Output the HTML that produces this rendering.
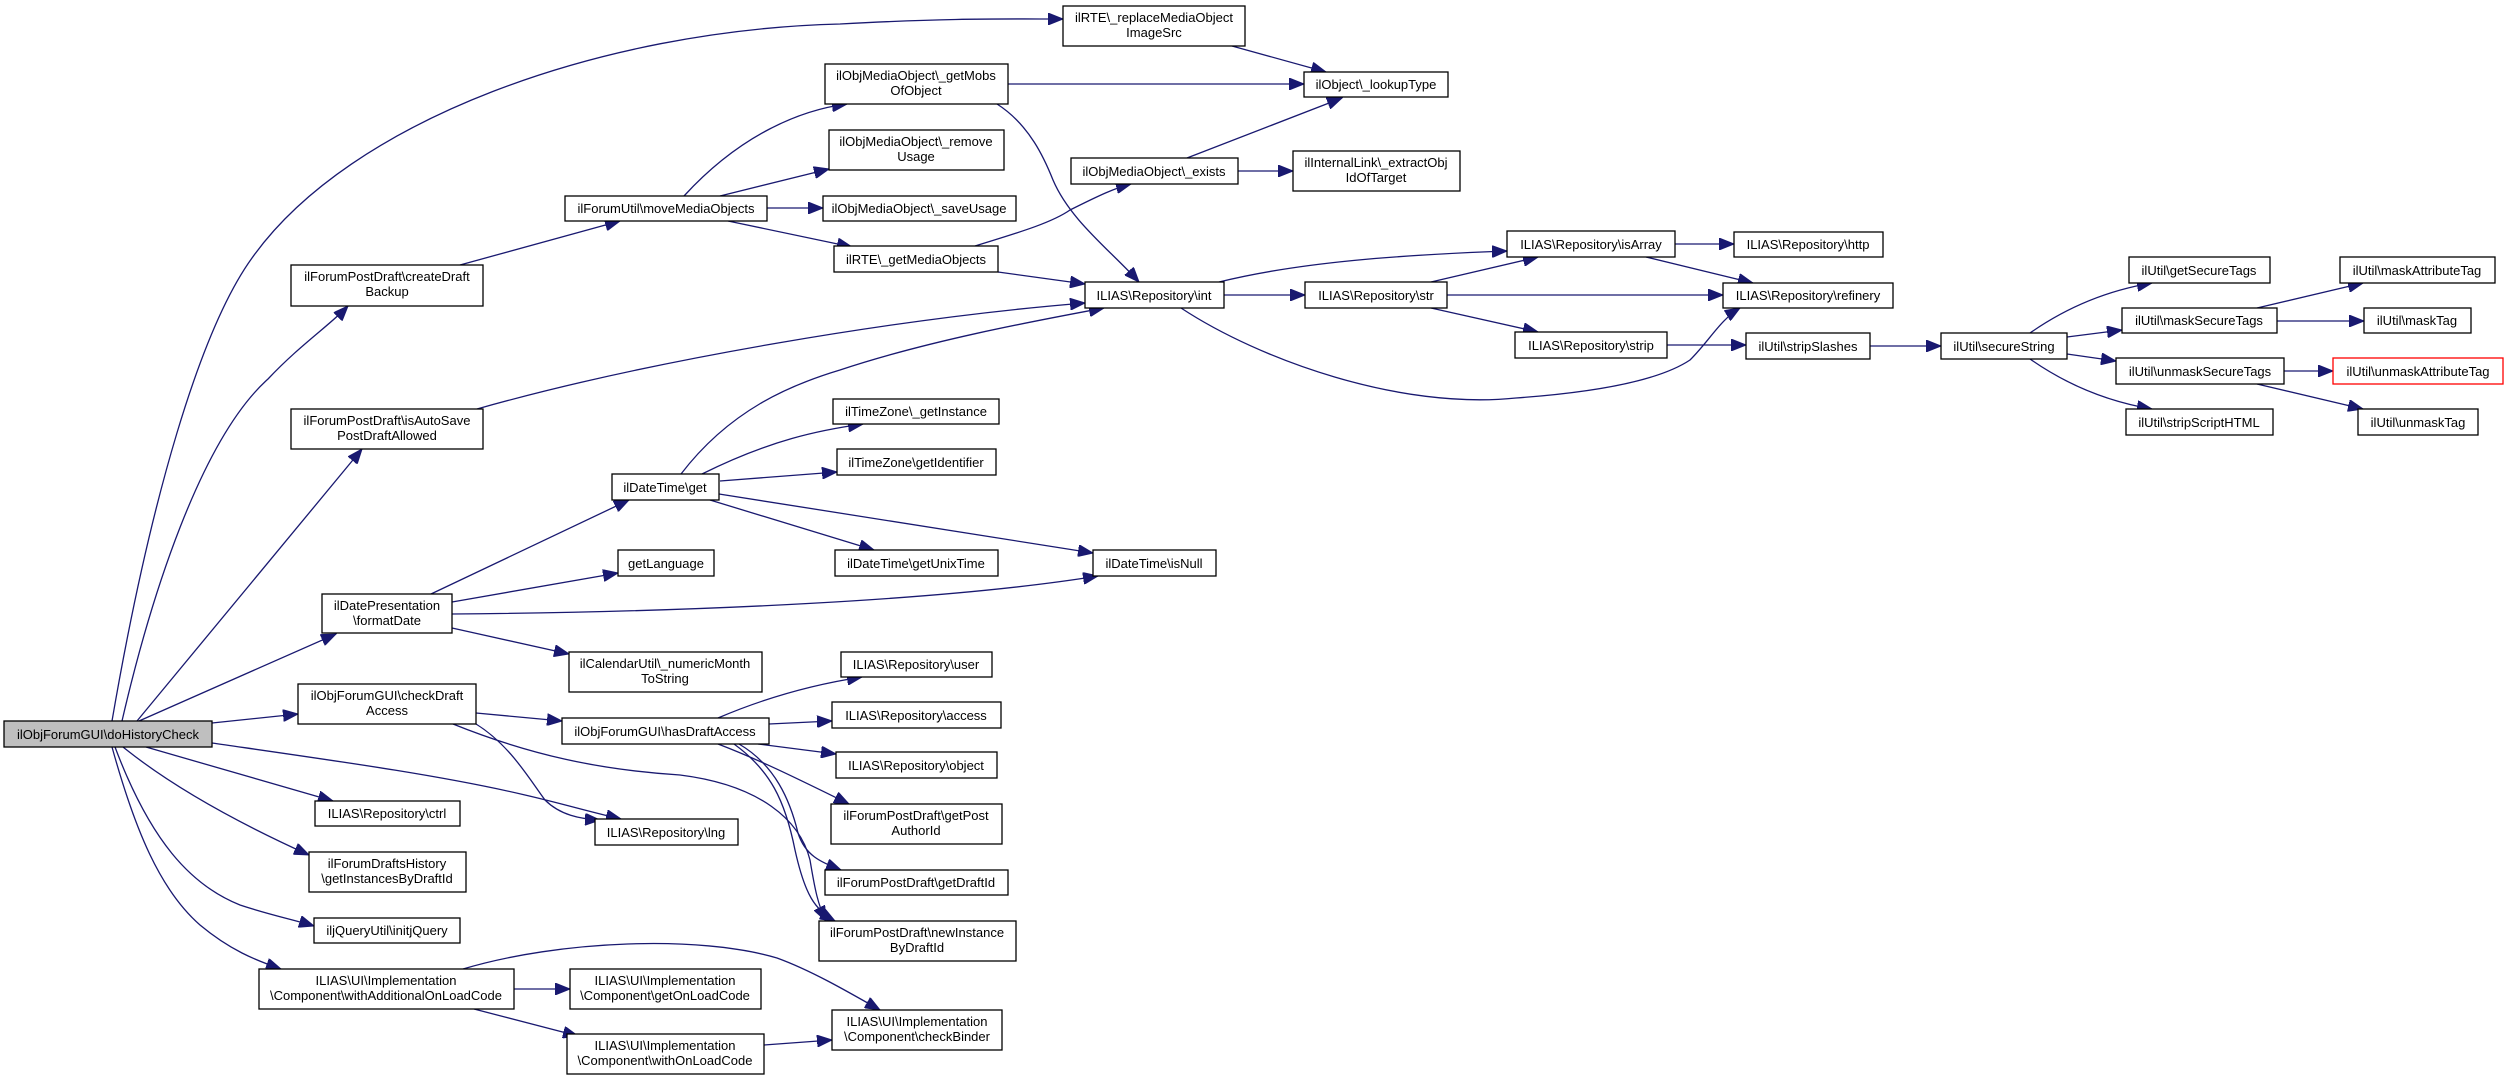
<!DOCTYPE html>
<html><head><meta charset="utf-8"><style>
html,body{margin:0;padding:0;background:#fff;}
svg{display:block;}
text{font-family:"Liberation Sans",Arial,sans-serif;font-size:13px;fill:#000;text-anchor:middle;}
.n{fill:#fff;stroke:#000;stroke-width:1.3;}
.e{fill:none;stroke:#191970;stroke-width:1.3;marker-end:url(#a);}
</style></head><body>
<svg width="2504" height="1081" viewBox="0 0 2504 1081" xmlns="http://www.w3.org/2000/svg">
<defs><marker id="a" markerUnits="userSpaceOnUse" markerWidth="16" markerHeight="12" refX="15" refY="6" orient="auto"><path d="M0,0 L15,6 L0,12 z" fill="#191970" stroke="#191970"/></marker></defs>

<!-- edges -->
<path class="e" d="M112,721 C150,500 200,330 252,258 C350,120 600,30 840,24 C950,18 1000,19 1063,19"/>
<path class="e" d="M122,721 C150,600 200,440 268,379 C300,345 330,325 348,306"/>
<path class="e" d="M137,721 L362,449"/>
<path class="e" d="M139,721 L336,634"/>
<path class="e" d="M212,723 L298,714"/>
<path class="e" d="M212,743 C330,760 440,775 525,795 C560,803 590,812 621,819"/>
<path class="e" d="M146,747 L333,801"/>
<path class="e" d="M123,747 C170,785 236,822 309,855"/>
<path class="e" d="M115,747 C150,840 190,885 240,905 C270,915 295,920 314,926"/>
<path class="e" d="M112,747 C135,830 160,890 200,925 C230,950 255,960 281,969"/>
<path class="e" d="M460,265 L620,221"/>
<path class="e" d="M684,196 C740,135 800,110 847,104"/>
<path class="e" d="M720,196 L829,169"/>
<path class="e" d="M767,208 L823,208"/>
<path class="e" d="M728,221 L852,247"/>
<path class="e" d="M1008,84 L1304,84"/>
<path class="e" d="M997,104 C1030,125 1045,160 1053,180 C1070,220 1110,250 1139,282"/>
<path class="e" d="M1232,46 L1326,72"/>
<path class="e" d="M975,246 C1010,235 1050,224 1070,210 C1100,195 1115,188 1131,184"/>
<path class="e" d="M998,272 L1085,284"/>
<path class="e" d="M1187,158 L1342,98"/>
<path class="e" d="M1238,171 L1293,171"/>
<path class="e" d="M477,409 C650,360 900,318 1085,303"/>
<path class="e" d="M681,474 C730,410 790,385 840,370 C930,340 1040,320 1104,308"/>
<path class="e" d="M702,474 C770,440 820,430 863,424"/>
<path class="e" d="M720,481 L837,472"/>
<path class="e" d="M719,494 L1093,553"/>
<path class="e" d="M710,500 L874,550"/>
<path class="e" d="M431,594 L629,500"/>
<path class="e" d="M452,602 L618,573"/>
<path class="e" d="M452,614 C700,612 950,600 1098,576"/>
<path class="e" d="M452,628 L569,654"/>
<path class="e" d="M1219,282 C1300,262 1400,255 1507,251"/>
<path class="e" d="M1224,295 L1305,295"/>
<path class="e" d="M1181,308 C1260,360 1400,410 1516,398 C1600,392 1660,380 1690,360 C1710,340 1720,320 1740,308"/>
<path class="e" d="M1431,282 L1538,257"/>
<path class="e" d="M1447,295 L1723,295"/>
<path class="e" d="M1431,308 L1538,332"/>
<path class="e" d="M1675,244 L1734,244"/>
<path class="e" d="M1646,257 L1753,283"/>
<path class="e" d="M1667,345 L1746,345"/>
<path class="e" d="M1870,346 L1941,346"/>
<path class="e" d="M2030,333 C2070,305 2110,290 2152,283"/>
<path class="e" d="M2067,337 L2122,330"/>
<path class="e" d="M2067,354 L2116,361"/>
<path class="e" d="M2030,359 C2070,387 2110,402 2152,409"/>
<path class="e" d="M2257,308 L2363,283"/>
<path class="e" d="M2277,321 L2364,321"/>
<path class="e" d="M2284,371 L2333,371"/>
<path class="e" d="M2257,384 L2363,409"/>
<path class="e" d="M476,713 L562,721"/>
<path class="e" d="M476,724 C510,745 530,780 545,800 C560,815 580,819 600,820"/>
<path class="e" d="M453,724 C530,755 600,770 680,775 C760,785 800,820 810,860 C815,890 818,905 826,921"/>
<path class="e" d="M718,718 C760,700 810,685 862,677"/>
<path class="e" d="M769,724 L832,721"/>
<path class="e" d="M758,744 L836,754"/>
<path class="e" d="M718,744 C760,760 800,780 849,804"/>
<path class="e" d="M739,744 C775,765 790,800 798,833 C805,855 820,862 841,870"/>
<path class="e" d="M734,744 C770,770 785,800 795,850 C805,895 815,910 835,921"/>
<path class="e" d="M514,989 L570,989"/>
<path class="e" d="M474,1009 L578,1036"/>
<path class="e" d="M463,969 C560,940 700,935 777,958 C810,970 845,990 880,1010"/>
<path class="e" d="M764,1045 L832,1040"/>

<!-- nodes -->
<rect x="4" y="721" width="208" height="26" style="fill:#bfbfbf;stroke:#000;stroke-width:1.3"/><text x="108" y="739">ilObjForumGUI\doHistoryCheck</text>
<rect class="n" x="1063" y="6" width="182" height="40"/><text x="1154" y="22">ilRTE\_replaceMediaObject</text><text x="1154" y="37">ImageSrc</text>
<rect class="n" x="1304" y="72" width="144" height="25"/><text x="1376" y="89">ilObject\_lookupType</text>
<rect class="n" x="825" y="64" width="183" height="40"/><text x="916" y="80">ilObjMediaObject\_getMobs</text><text x="916" y="95">OfObject</text>
<rect class="n" x="829" y="130" width="175" height="40"/><text x="916" y="146">ilObjMediaObject\_remove</text><text x="916" y="161">Usage</text>
<rect class="n" x="823" y="196" width="193" height="25"/><text x="919" y="213">ilObjMediaObject\_saveUsage</text>
<rect class="n" x="834" y="246" width="164" height="26"/><text x="916" y="264">ilRTE\_getMediaObjects</text>
<rect class="n" x="1071" y="158" width="167" height="26"/><text x="1154" y="176">ilObjMediaObject\_exists</text>
<rect class="n" x="1293" y="151" width="167" height="40"/><text x="1376" y="167">ilInternalLink\_extractObj</text><text x="1376" y="182">IdOfTarget</text>
<rect class="n" x="565" y="196" width="202" height="25"/><text x="666" y="213">ilForumUtil\moveMediaObjects</text>
<rect class="n" x="291" y="265" width="192" height="41"/><text x="387" y="281">ilForumPostDraft\createDraft</text><text x="387" y="296">Backup</text>
<rect class="n" x="1085" y="282" width="139" height="26"/><text x="1154" y="300">ILIAS\Repository\int</text>
<rect class="n" x="1305" y="282" width="142" height="26"/><text x="1376" y="300">ILIAS\Repository\str</text>
<rect class="n" x="1507" y="231" width="168" height="26"/><text x="1591" y="249">ILIAS\Repository\isArray</text>
<rect class="n" x="1734" y="232" width="149" height="25"/><text x="1808" y="249">ILIAS\Repository\http</text>
<rect class="n" x="1723" y="283" width="170" height="25"/><text x="1808" y="300">ILIAS\Repository\refinery</text>
<rect class="n" x="1515" y="332" width="152" height="26"/><text x="1591" y="350">ILIAS\Repository\strip</text>
<rect class="n" x="1746" y="333" width="124" height="26"/><text x="1808" y="351">ilUtil\stripSlashes</text>
<rect class="n" x="1941" y="333" width="126" height="26"/><text x="2004" y="351">ilUtil\secureString</text>
<rect class="n" x="2129" y="257" width="141" height="26"/><text x="2199" y="275">ilUtil\getSecureTags</text>
<rect class="n" x="2122" y="308" width="155" height="25"/><text x="2199" y="325">ilUtil\maskSecureTags</text>
<rect class="n" x="2116" y="358" width="168" height="26"/><text x="2200" y="376">ilUtil\unmaskSecureTags</text>
<rect class="n" x="2126" y="409" width="147" height="26"/><text x="2199" y="427">ilUtil\stripScriptHTML</text>
<rect class="n" x="2340" y="257" width="155" height="26"/><text x="2417" y="275">ilUtil\maskAttributeTag</text>
<rect class="n" x="2364" y="308" width="107" height="25"/><text x="2417" y="325">ilUtil\maskTag</text>
<rect x="2333" y="358" width="170" height="26" style="fill:#fff;stroke:#ff0000;stroke-width:1.3"/><text x="2418" y="376">ilUtil\unmaskAttributeTag</text>
<rect class="n" x="2358" y="409" width="120" height="26"/><text x="2418" y="427">ilUtil\unmaskTag</text>
<rect class="n" x="291" y="409" width="192" height="40"/><text x="387" y="425">ilForumPostDraft\isAutoSave</text><text x="387" y="440">PostDraftAllowed</text>
<rect class="n" x="833" y="399" width="166" height="25"/><text x="916" y="416">ilTimeZone\_getInstance</text>
<rect class="n" x="837" y="449" width="159" height="26"/><text x="916" y="467">ilTimeZone\getIdentifier</text>
<rect class="n" x="612" y="474" width="107" height="26"/><text x="665" y="492">ilDateTime\get</text>
<rect class="n" x="618" y="550" width="96" height="26"/><text x="666" y="568">getLanguage</text>
<rect class="n" x="835" y="550" width="163" height="26"/><text x="916" y="568">ilDateTime\getUnixTime</text>
<rect class="n" x="1093" y="550" width="123" height="26"/><text x="1154" y="568">ilDateTime\isNull</text>
<rect class="n" x="322" y="594" width="130" height="39"/><text x="387" y="610">ilDatePresentation</text><text x="387" y="625">\formatDate</text>
<rect class="n" x="569" y="652" width="193" height="40"/><text x="665" y="668">ilCalendarUtil\_numericMonth</text><text x="665" y="683">ToString</text>
<rect class="n" x="298" y="684" width="178" height="40"/><text x="387" y="700">ilObjForumGUI\checkDraft</text><text x="387" y="715">Access</text>
<rect class="n" x="562" y="718" width="207" height="26"/><text x="665" y="736">ilObjForumGUI\hasDraftAccess</text>
<rect class="n" x="841" y="652" width="151" height="25"/><text x="916" y="669">ILIAS\Repository\user</text>
<rect class="n" x="832" y="702" width="169" height="26"/><text x="916" y="720">ILIAS\Repository\access</text>
<rect class="n" x="836" y="752" width="161" height="26"/><text x="916" y="770">ILIAS\Repository\object</text>
<rect class="n" x="831" y="804" width="171" height="40"/><text x="916" y="820">ilForumPostDraft\getPost</text><text x="916" y="835">AuthorId</text>
<rect class="n" x="825" y="870" width="183" height="25"/><text x="916" y="887">ilForumPostDraft\getDraftId</text>
<rect class="n" x="819" y="921" width="197" height="40"/><text x="917" y="937">ilForumPostDraft\newInstance</text><text x="917" y="952">ByDraftId</text>
<rect class="n" x="315" y="801" width="145" height="25"/><text x="387" y="818">ILIAS\Repository\ctrl</text>
<rect class="n" x="595" y="819" width="143" height="26"/><text x="666" y="837">ILIAS\Repository\lng</text>
<rect class="n" x="309" y="852" width="157" height="40"/><text x="387" y="868">ilForumDraftsHistory</text><text x="387" y="883">\getInstancesByDraftId</text>
<rect class="n" x="314" y="918" width="146" height="25"/><text x="387" y="935">iljQueryUtil\initjQuery</text>
<rect class="n" x="259" y="969" width="255" height="40"/><text x="386" y="985">ILIAS\UI\Implementation</text><text x="386" y="1000">\Component\withAdditionalOnLoadCode</text>
<rect class="n" x="570" y="969" width="191" height="40"/><text x="665" y="985">ILIAS\UI\Implementation</text><text x="665" y="1000">\Component\getOnLoadCode</text>
<rect class="n" x="567" y="1034" width="197" height="40"/><text x="665" y="1050">ILIAS\UI\Implementation</text><text x="665" y="1065">\Component\withOnLoadCode</text>
<rect class="n" x="832" y="1010" width="170" height="40"/><text x="917" y="1026">ILIAS\UI\Implementation</text><text x="917" y="1041">\Component\checkBinder</text>
</svg>
</body></html>
